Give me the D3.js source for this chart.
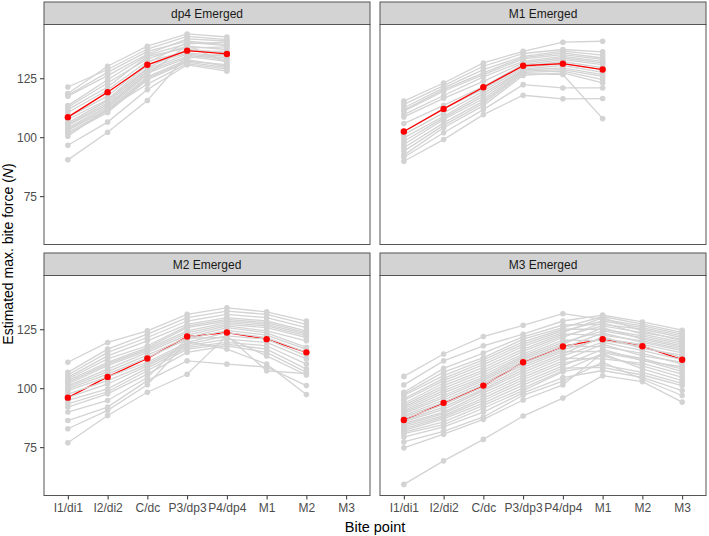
<!DOCTYPE html>
<html>
<head>
<meta charset="utf-8">
<script src="https://cdn.jsdelivr.net/npm/d3@7"></script>
<style>
  body { margin: 0; background: #fff; }
  svg { display: block; font-family: "Liberation Sans", Arial, Helvetica, sans-serif; }
</style>
</head>
<body>
<div id="chart"></div>
<script>
// ---------- data ----------
const bitePoints = ["I1/di1", "I2/di2", "C/dc", "P3/dp3", "P4/dp4", "M1", "M2", "M3"];
const panelTitles = ["dp4 Emerged", "M1 Emerged", "M2 Emerged", "M3 Emerged"];
const yTicks = [75, 100, 125];

// individual specimens (grey), values by bite point
const dp4Lines = [
  [121.3, 128.7, 137.4, 142.8, 141.4],
  [118.5, 130.1, 138.6, 143.8, 142.5],
  [117.8, 127.5, 136.4, 140.7, 139.3],
  [117.4, 126.1, 135.3, 141.7, 140.8],
  [113.4, 124.4, 134.8, 139.6, 140.3],
  [112.7, 123.0, 133.2, 138.6, 137.2],
  [111.7, 121.3, 134.3, 137.8, 138.3],
  [110.5, 120.0, 132.2, 136.4, 136.5],
  [108.5, 117.4, 131.5, 140.2, 138.8],
  [107.5, 116.0, 130.7, 135.8, 134.3],
  [106.1, 115.5, 129.4, 137.2, 135.8],
  [105.5, 114.6, 128.8, 135.2, 133.6],
  [105.0, 113.8, 128.0, 134.3, 132.2],
  [104.0, 113.1, 127.2, 133.6, 135.3],
  [103.5, 112.5, 126.6, 139.0, 131.5],
  [103.0, 111.7, 125.6, 132.9, 130.1],
  [102.1, 111.0, 125.0, 132.2, 130.8],
  [101.4, 110.5, 124.4, 131.8, 129.5],
  [100.4, 112.0, 122.5, 131.2, 128.9],
  [96.6, 106.4, 120.2, 130.7, 128.0],
  [90.4, 102.1, 115.6, 134.8, 132.9]
];
const m1Lines = [
  [115.3, 123.0, 131.5, 136.4, 140.3, 140.7],
  [113.9, 121.9, 130.1, 135.5, 137.2, 136.2],
  [112.5, 120.9, 128.7, 134.3, 136.5, 134.8],
  [111.5, 120.2, 127.3, 133.8, 135.8, 133.6],
  [111.0, 119.5, 126.5, 133.2, 135.0, 133.0],
  [109.6, 117.7, 125.6, 132.2, 134.3, 132.2],
  [108.6, 116.5, 123.7, 131.5, 133.6, 131.5],
  [105.8, 113.5, 121.5, 130.8, 132.9, 130.8],
  [102.4, 112.0, 120.5, 130.3, 132.0, 129.5],
  [101.1, 110.3, 119.5, 129.6, 131.2, 128.7],
  [99.7, 108.9, 118.5, 128.9, 130.5, 127.5],
  [98.3, 108.2, 117.4, 128.5, 129.4, 126.5],
  [96.9, 107.5, 116.3, 128.0, 128.7, 125.8],
  [95.5, 106.1, 115.3, 127.5, 128.0, 124.4],
  [94.1, 105.0, 114.4, 127.0, 126.6, 107.9],
  [92.4, 104.0, 113.4, 126.2, 127.3, 123.0],
  [91.5, 101.9, 111.7, 122.3, 120.9, 120.9],
  [89.8, 99.0, 109.6, 117.8, 116.3, 116.4]
];
const m2Lines = [
  [111.0, 119.4, 124.3, 131.3, 134.1, 132.4, 128.5],
  [106.7, 116.6, 122.9, 129.9, 132.7, 131.3, 127.1],
  [105.6, 115.2, 121.5, 128.5, 131.3, 129.9, 125.7],
  [104.6, 113.7, 120.1, 127.1, 129.9, 128.5, 124.3],
  [103.9, 112.4, 118.0, 126.3, 129.2, 127.8, 123.6],
  [103.2, 111.0, 117.2, 125.7, 128.5, 127.1, 122.9],
  [102.5, 110.3, 116.6, 124.3, 127.8, 126.4, 122.2],
  [101.8, 109.6, 115.9, 123.5, 127.1, 125.7, 121.5],
  [101.0, 108.1, 115.2, 122.5, 126.4, 124.3, 120.1],
  [100.4, 107.0, 114.0, 121.5, 125.7, 123.5, 117.3],
  [99.7, 106.0, 113.0, 120.8, 124.5, 122.5, 116.5],
  [99.0, 104.8, 111.0, 119.4, 123.6, 121.5, 115.2],
  [97.5, 103.2, 110.2, 118.7, 122.2, 120.8, 113.7],
  [96.0, 101.8, 109.5, 118.0, 120.8, 119.4, 112.4],
  [94.8, 99.7, 108.5, 117.3, 119.4, 118.0, 110.2],
  [93.4, 98.5, 107.4, 116.6, 118.7, 116.6, 108.1],
  [92.0, 97.6, 106.0, 115.2, 118.0, 115.2, 106.7],
  [89.9, 94.8, 104.5, 121.2, 121.5, 113.7, 105.6],
  [86.3, 92.0, 103.2, 111.6, 110.2, 109.0, 101.1],
  [82.8, 90.6, 101.5, 119.8, 116.6, 110.2, 97.3],
  [76.9, 88.4, 98.3, 105.9, 122.2, 107.4, 106.2]
];
const m3Lines = [
  [105.0, 114.5, 121.9, 126.7, 131.6, 129.2, 126.4, 122.9],
  [101.4, 111.6, 118.0, 122.9, 128.5, 131.0, 128.1, 124.6],
  [98.3, 108.4, 114.9, 121.8, 126.8, 127.1, 125.0, 121.5],
  [97.5, 106.8, 113.0, 120.8, 125.7, 130.4, 127.2, 123.7],
  [96.9, 105.3, 112.0, 119.7, 125.0, 125.0, 122.2, 118.7],
  [95.5, 104.2, 111.0, 118.7, 124.3, 128.5, 125.7, 122.2],
  [94.8, 103.2, 110.0, 117.7, 123.6, 129.9, 124.3, 120.1],
  [93.5, 102.2, 108.8, 116.6, 122.9, 122.5, 120.1, 116.6],
  [92.7, 101.1, 107.7, 115.6, 122.2, 126.4, 123.6, 120.8],
  [92.0, 100.0, 106.7, 114.5, 121.5, 127.8, 122.9, 119.4],
  [91.3, 99.0, 105.6, 113.7, 120.4, 120.2, 117.8, 113.0],
  [90.5, 98.0, 104.6, 113.0, 119.4, 124.3, 121.5, 118.0],
  [89.9, 96.9, 103.9, 112.2, 118.6, 125.7, 120.8, 117.3],
  [89.2, 96.0, 103.2, 111.4, 117.8, 117.6, 114.8, 110.2],
  [88.4, 95.0, 102.3, 110.6, 117.0, 123.4, 119.4, 115.9],
  [87.7, 94.0, 101.4, 109.8, 116.3, 121.0, 118.6, 115.0],
  [87.0, 93.0, 100.5, 108.8, 115.5, 115.6, 112.6, 108.1],
  [86.3, 92.0, 99.6, 107.8, 114.6, 121.8, 116.8, 114.0],
  [85.7, 91.0, 99.0, 106.7, 113.7, 119.5, 115.9, 112.1],
  [85.0, 89.9, 98.0, 105.6, 112.7, 112.4, 110.5, 106.0],
  [84.3, 89.2, 96.9, 104.6, 111.6, 118.7, 113.7, 111.1],
  [83.6, 88.4, 95.8, 103.6, 110.6, 113.7, 109.5, 104.6],
  [82.8, 87.7, 94.8, 102.5, 109.5, 116.6, 111.6, 109.1],
  [82.1, 87.0, 93.7, 101.3, 108.5, 108.8, 105.6, 101.1],
  [81.4, 85.7, 92.7, 100.0, 107.5, 114.6, 108.2, 103.2],
  [80.7, 84.6, 91.5, 99.0, 107.0, 109.9, 106.7, 102.1],
  [79.3, 83.6, 89.9, 98.0, 104.5, 107.5, 104.6, 99.0],
  [77.2, 81.7, 87.8, 97.0, 103.0, 111.0, 103.8, 96.9],
  [74.7, 80.5, 86.8, 95.0, 101.4, 115.0, 112.0, 107.0],
  [59.2, 69.2, 78.3, 88.2, 95.8, 105.3, 102.8, 94.1]
];
// group means (red)
const dp4Mean = [108.5, 119.1, 130.7, 136.7, 135.3];
const m1Mean = [102.4, 112.0, 121.2, 130.3, 131.2, 128.7];
const m2Mean = [96.0, 104.8, 112.6, 121.9, 123.6, 120.8, 115.2];
const m3Mean = [86.5, 93.8, 101.1, 111.0, 117.7, 120.8, 117.8, 112.1];

const panels = [
  { title: panelTitles[0], lines: dp4Lines, mean: dp4Mean, meanAt: 1.0 },
  { title: panelTitles[1], lines: m1Lines, mean: m1Mean, meanAt: 1.0 },
  { title: panelTitles[2], lines: m2Lines, mean: m2Mean, meanAt: 0.4 },
  { title: panelTitles[3], lines: m3Lines, mean: m3Mean, meanAt: 0.3 }
];

// ---------- layout ----------
const W = 709, H = 536;
const colX = [44, 380];
const panelW = 326;
const rowY = [2, 253];      // strip tops
const stripH = 22.5;
const panelH = 220;
const greyCol = "#d3d3d3";

const svg = d3.select("#chart").append("svg")
  .attr("width", W).attr("height", H);

const x = d3.scalePoint().domain(bitePoints).range([0, panelW]).padding(0.6);
const y = d3.scaleLinear().domain([54.5, 147.8]).range([panelH, 0]);

panels.forEach((p, i) => {
  const col = i % 2, row = Math.floor(i / 2);
  const g = svg.append("g").attr("transform", `translate(${colX[col]},${rowY[row]})`);

  // strip
  g.append("rect").attr("x", 0).attr("y", 0).attr("width", panelW).attr("height", stripH)
    .attr("fill", "#d3d3d3").attr("stroke", "#555").attr("stroke-width", 1);
  g.append("text").attr("x", panelW / 2).attr("y", stripH / 2 + 4.3)
    .attr("text-anchor", "middle").attr("font-size", 12).attr("fill", "#1a1a1a").text(p.title);

  const pg = g.append("g").attr("transform", `translate(0,${stripH})`);
  pg.append("rect").attr("width", panelW).attr("height", panelH).attr("fill", "#fff");

  const line = d3.line().x((d, k) => x(bitePoints[k])).y(d => y(d));
  const nBefore = Math.round(p.lines.length * p.meanAt);

  const drawGrey = (arr) => {
    arr.forEach(vals => {
      pg.append("path").datum(vals).attr("d", line)
        .attr("fill", "none").attr("stroke", greyCol).attr("stroke-width", 1.3);
    });
  };
  drawGrey(p.lines.slice(0, nBefore));
  pg.append("path").datum(p.mean).attr("d", line)
    .attr("fill", "none").attr("stroke", "#ff0000").attr("stroke-width", 1.3);
  drawGrey(p.lines.slice(nBefore));

  p.lines.forEach(vals => {
    pg.selectAll(null).data(vals).enter().append("circle")
      .attr("cx", (d, k) => x(bitePoints[k])).attr("cy", d => y(d))
      .attr("r", 2.8).attr("fill", greyCol);
  });
  pg.selectAll(null).data(p.mean).enter().append("circle")
    .attr("cx", (d, k) => x(bitePoints[k])).attr("cy", d => y(d))
    .attr("r", 3.2).attr("fill", "#ff0000");

  pg.append("rect").attr("width", panelW).attr("height", panelH)
    .attr("fill", "none").attr("stroke", "#555").attr("stroke-width", 1);

  if (col === 0) {
    const ya = pg.append("g").call(d3.axisLeft(y).tickValues(yTicks).tickSize(4).tickPadding(3));
    ya.select(".domain").remove();
    ya.selectAll(".tick line").attr("stroke", "#333");
    ya.selectAll(".tick text").attr("font-size", 12).attr("fill", "#4d4d4d")
      .attr("font-family", "Liberation Sans, Arial, sans-serif");
  }
  if (row === 1) {
    const xa = pg.append("g").attr("transform", `translate(0,${panelH})`)
      .call(d3.axisBottom(x).tickSize(4).tickPadding(4));
    xa.select(".domain").remove();
    xa.selectAll(".tick line").attr("stroke", "#333");
    xa.selectAll(".tick text").attr("font-size", 12).attr("fill", "#4d4d4d")
      .attr("font-family", "Liberation Sans, Arial, sans-serif");
  }
});

// axis titles
svg.append("text").attr("x", (colX[0] + colX[1] + panelW) / 2).attr("y", 532)
  .attr("text-anchor", "middle").attr("font-size", 14.5).attr("fill", "#000").text("Bite point");

const yt = svg.append("text")
  .attr("transform", `translate(13,254) rotate(-90)`)
  .attr("text-anchor", "middle").attr("font-size", 14).attr("fill", "#000");
yt.append("tspan").text("Estimated max. bite force (");
yt.append("tspan").attr("font-style", "italic").text("N");
yt.append("tspan").text(")");
</script>
</body>
</html>
